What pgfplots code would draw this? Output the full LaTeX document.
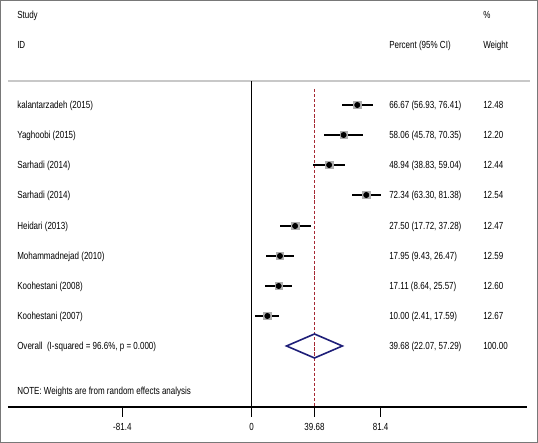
\documentclass[border=0pt]{standalone}
\usepackage{pgfplots}
\pgfplotsset{compat=1.18}
\usepackage{fontspec}
\setmainfont{Liberation Sans}[FakeStretch=0.78]
\definecolor{refred}{RGB}{165,40,50}
\definecolor{refnavy}{RGB}{30,30,120}
\definecolor{sqgray}{RGB}{175,175,175}
\definecolor{hdrgray}{RGB}{200,200,200}
\definecolor{frame}{RGB}{120,120,120}
\newcommand\rowtext[4]{%
  \node[anchor=mid west, inner sep=0pt] at (axis cs:-147.8,#4) {#1};
  \node[anchor=mid west, inner sep=0pt] at (axis cs:86.66,#4) {#2};
  \node[anchor=mid west, inner sep=0pt] at (axis cs:145.9,#4) {#3};}
\begin{document}
\begin{tikzpicture}[x=1pt,y=1pt]
\begin{axis}[
  scale only axis,
  width=389.25pt, height=305.25pt,
  xmin=-153.5, xmax=173.6,
  ymin=-407, ymax=0,
  clip=false,
  axis x line*=bottom,
  axis y line=none,
  x axis line style={-, line width=1.3pt},
  xtick={-81.4,0,39.68,81.4},
  xticklabels={{-81.4},{0},{39.68},{81.4}},
  tick align=outside,
  major tick length=7.5pt,
  x tick style={black, line width=0.9pt},
  xticklabel style={font=\fontsize{7.7}{9}\selectfont, yshift=-1pt},
  font=\fontsize{7.7}{9}\selectfont,
]
% frame
\draw[frame, line width=0.75pt] (axis cs:-158.2,-0.5) rectangle (axis cs:180.26,-442.5);
% header line
\draw[hdrgray, line width=1.2pt] (axis cs:-153.5,-81) -- (axis cs:175.5,-81);
% zero line
\draw[black, line width=0.8pt] (axis cs:0,-81.5) -- (axis cs:0,-417);
% overall estimate line
\addplot[refred, line width=1pt, dash pattern=on 2.4pt off 1.4pt] coordinates {(39.68,-89) (39.68,-407)};
% gray weight boxes
\addplot[only marks, mark=square*, mark size=2.8pt, sqgray, mark options={draw=sqgray, fill=sqgray}] table[x=est, y=y] {
est y
66.67 -105
58.06 -135
48.94 -165
72.34 -195
27.50 -226
17.95 -256
17.11 -286
10.00 -316
};
% CIs
\addplot[only marks, mark=none, black,
  error bars/.cd, x dir=both, x explicit, error mark=none,
  error bar style={line width=1.5pt, black}]
  table[x=est, y=y, x error plus expr=\thisrow{hi}-\thisrow{est}, x error minus expr=\thisrow{est}-\thisrow{lo}] {
est lo hi y
66.67 56.93 76.41 -105
58.06 45.78 70.35 -135
48.94 38.83 59.04 -165
72.34 63.30 81.38 -195
27.50 17.72 37.28 -226
17.95 9.43 26.47 -256
17.11 8.64 25.57 -286
10.00 2.41 17.59 -316
};
% point markers
\addplot[only marks, mark=diamond*, mark size=2pt, black, mark options={fill=black}] table[x=est, y=y] {
est y
66.67 -105
58.06 -135
48.94 -165
72.34 -195
27.50 -226
17.95 -256
17.11 -286
10.00 -316
};
% overall diamond
\addplot[refnavy, line width=1.2pt, line join=miter] coordinates {(22.07,-346) (39.68,-334) (57.29,-346) (39.68,-358) (22.07,-346)} -- cycle;
% texts
\node[anchor=mid west, inner sep=0pt] at (axis cs:-147.8,-15) {Study};
\node[anchor=mid west, inner sep=0pt] at (axis cs:-147.8,-45) {ID};
\node[anchor=mid west, inner sep=0pt] at (axis cs:86.66,-45) {Percent (95\% CI)};
\node[anchor=mid west, inner sep=0pt] at (axis cs:145.9,-15) {\%};
\node[anchor=mid west, inner sep=0pt] at (axis cs:145.9,-45) {Weight};
\rowtext{kalantarzadeh (2015)}{66.67 (56.93, 76.41)}{12.48}{-105}
\rowtext{Yaghoobi (2015)}{58.06 (45.78, 70.35)}{12.20}{-135}
\rowtext{Sarhadi (2014)}{48.94 (38.83, 59.04)}{12.44}{-165}
\rowtext{Sarhadi (2014)}{72.34 (63.30, 81.38)}{12.54}{-195}
\rowtext{Heidari (2013)}{27.50 (17.72, 37.28)}{12.47}{-226}
\rowtext{Mohammadnejad (2010)}{17.95 (9.43, 26.47)}{12.59}{-256}
\rowtext{Koohestani (2008)}{17.11 (8.64, 25.57)}{12.60}{-286}
\rowtext{Koohestani (2007)}{10.00 (2.41, 17.59)}{12.67}{-316}
\rowtext{Overall\ \ (I-squared = 96.6\%, p = 0.000)}{39.68 (22.07, 57.29)}{100.00}{-346}
\node[anchor=mid west, inner sep=0pt] at (axis cs:-147.8,-391) {NOTE: Weights are from random effects analysis};
\end{axis}
\end{tikzpicture}
\end{document}
